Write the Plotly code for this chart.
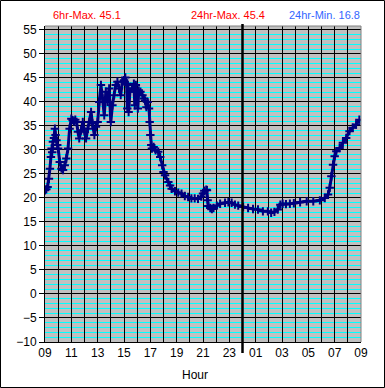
import plotly.graph_objects as go

# Time in hours since 00:00 of first day (09 -> 33 = 09 next day)
hours = [
    9.00, 9.10, 9.20, 9.30, 9.375, 9.45, 9.50, 9.55, 9.60, 9.68, 9.75, 9.80, 9.87, 9.93,
    10.00, 10.12, 10.25, 10.37, 10.50, 10.62, 10.75, 10.87,
    11.00, 11.10, 11.20, 11.30, 11.40, 11.50, 11.60, 11.75, 11.87,
    12.00, 12.12, 12.25, 12.37, 12.50, 12.60, 12.75, 12.87,
    13.00, 13.12, 13.25, 13.37, 13.50, 13.62, 13.75, 13.87,
    14.00, 14.12, 14.25, 14.37, 14.50, 14.62, 14.75, 14.87,
    15.00, 15.10, 15.20, 15.25, 15.30, 15.35, 15.45, 15.60, 15.75, 15.82, 15.90,
    16.00, 16.05, 16.12, 16.25, 16.40, 16.50, 16.60, 16.70, 16.80, 16.90, 16.95,
    17.00, 17.07, 17.12, 17.25, 17.40, 17.60, 17.75, 17.90,
    18.00, 18.12, 18.37, 18.50, 18.62, 18.87,
    19.12, 19.37, 19.62, 19.87,
    20.12, 20.37, 20.62, 20.87,
    21.00, 21.10, 21.25, 21.30, 21.35, 21.40, 21.55, 21.675, 21.80,
    22.05, 22.30, 22.675, 22.925,
    23.175, 23.425, 23.675,
    24.05, 24.425, 24.80,
    25.175, 25.55, 25.925,
    26.175, 26.425, 26.675, 26.875,
    27.05, 27.30, 27.60, 27.90,
    28.375, 28.875, 29.375, 29.875,
    30.25, 30.50, 30.625, 30.75, 30.875,
    31.00, 31.125, 31.375, 31.625, 31.875,
    32.125, 32.375, 32.625, 32.875,
]
temps = [
    21.6, 21.8, 22.3, 24.0, 26.1, 28.5, 30.3, 29.5, 31.7, 32.5, 34.4, 33.1, 32.0, 31.0,
    30.3, 27.5, 26.1, 25.8, 26.8, 28.2, 30.3, 34.4,
    36.5, 36.2, 35.9, 36.3, 35.8, 33.8, 32.4, 34.1, 35.8,
    33.8, 32.4, 34.4, 35.8, 37.9, 35.5, 33.1, 34.8,
    35.8, 40.0, 43.5, 40.7, 37.2, 42.1, 40.0, 42.8,
    35.8, 39.3, 41.4, 43.5, 44.2, 42.8, 41.4, 44.2,
    44.5, 45.1, 43.8, 38.6, 43.5, 37.9, 42.1, 42.8, 43.8, 39.3, 43.5,
    41.4, 38.6, 42.4, 42.1, 41.4, 40.7, 40.3, 38.9, 40.0, 38.6, 35.8,
    33.1, 31.0, 30.3, 30.6, 29.9, 29.6, 28.5, 26.8,
    25.4, 24.7, 23.3, 22.6, 21.9, 21.4,
    21.1, 20.9, 20.4, 20.2,
    19.9, 19.9, 19.8, 20.3,
    20.9, 21.5, 21.7, 21.6, 19.5, 18.3, 17.9, 17.7, 17.9,
    18.4, 18.8, 19.0, 19.1,
    19.0, 18.6, 18.4,
    18.1, 17.9, 17.7,
    17.6, 17.2, 17.2,
    16.9, 17.1, 17.6, 18.6,
    18.8, 18.7, 18.8, 18.9,
    19.1, 19.3, 19.3, 19.5,
    20.0, 20.7, 22.1, 24.5, 26.9,
    28.7, 29.7, 30.4, 31.5, 32.5,
    33.9, 34.6, 35.3, 36.3,
]

# hourly gridlines, labels on every second hour
hour_ticks = list(range(9, 34))
hour_labels = ["09", "", "11", "", "13", "", "15", "", "17", "", "19", "", "21", "",
               "23", "", "01", "", "03", "", "05", "", "07", "", "09"]
y_ticks = list(range(-10, 60, 5))

stat_labels = ["6hr-Max. 45.1", "24hr-Max. 45.4", "24hr-Min. 16.8"]
stat_colors = ["#FF0000", "#FF0000", "#3366FF"]

W, H = 385, 388
L, R, T, B = 45, 24, 26, 46
PW, PH = W - L - R, H - T - B

def px2paper_x(px):
    return (px - L) / PW

def px2paper_y(py):
    return (H - B - py) / PH

fig = go.Figure()
fig.add_trace(go.Scatter(
    x=hours, y=temps, mode="lines+markers",
    line=dict(color="#000080", width=3),
    marker=dict(symbol="cross-thin", size=6, line=dict(color="#000080", width=2)),
    showlegend=False, hoverinfo="skip",
))

font = "Liberation Sans, Arial, sans-serif"

fig.update_layout(
    width=W, height=H,
    margin=dict(l=L, r=R, t=T, b=B, pad=0),
    paper_bgcolor="white",
    plot_bgcolor="#C0C0C0",
    font=dict(family=font, size=12, color="black"),
    xaxis=dict(
        range=[9, 33], tickvals=hour_ticks, ticktext=hour_labels,
        showgrid=True, gridcolor="black", gridwidth=1,
        showline=True, linecolor="black", linewidth=1,
        ticks="", zeroline=False, tickfont=dict(size=12),
    ),
    yaxis=dict(
        range=[-10, 55.8], tickvals=y_ticks,
        showgrid=True, gridcolor="black", gridwidth=1,
        minor=dict(dtick=1, tick0=0, showgrid=True, gridcolor="#00FFFF", gridwidth=1),
        showline=True, linecolor="black", linewidth=1,
        ticks="outside", ticklen=5, tickcolor="black", zeroline=False,
        tickfont=dict(size=12),
    ),
)

# stats header
for txt, col, cx in zip(stat_labels, stat_colors, [87, 228, 324]):
    fig.add_annotation(x=px2paper_x(cx), y=px2paper_y(15), xref="paper", yref="paper",
                       text=txt, showarrow=False, font=dict(color=col, size=11),
                       xanchor="center", yanchor="middle")

fig.add_annotation(x=px2paper_x(195), y=px2paper_y(375), xref="paper", yref="paper",
                   text="Hour", showarrow=False, font=dict(size=12),
                   xanchor="center", yanchor="middle")

# plot area top/right border (grey)
fig.add_shape(type="line", xref="paper", yref="paper", x0=0, x1=1, y0=1, y1=1,
              line=dict(color="#808080", width=1))
fig.add_shape(type="line", xref="paper", yref="paper", x0=1, x1=1, y0=0, y1=1,
              line=dict(color="#808080", width=1))
# midnight marker
fig.add_shape(type="line", xref="x", yref="paper", x0=24, x1=24,
              y0=px2paper_y(353), y1=px2paper_y(24),
              line=dict(color="black", width=2.5))
# outer border
fig.add_shape(type="rect", xref="paper", yref="paper",
              x0=px2paper_x(0.5), x1=px2paper_x(384.5),
              y0=px2paper_y(387.5), y1=px2paper_y(0.5),
              line=dict(color="black", width=1))

fig.write_html("out.html", config={"displayModeBar": False},
               post_script="document.body.style.margin='0';document.body.style.overflow='hidden';")
